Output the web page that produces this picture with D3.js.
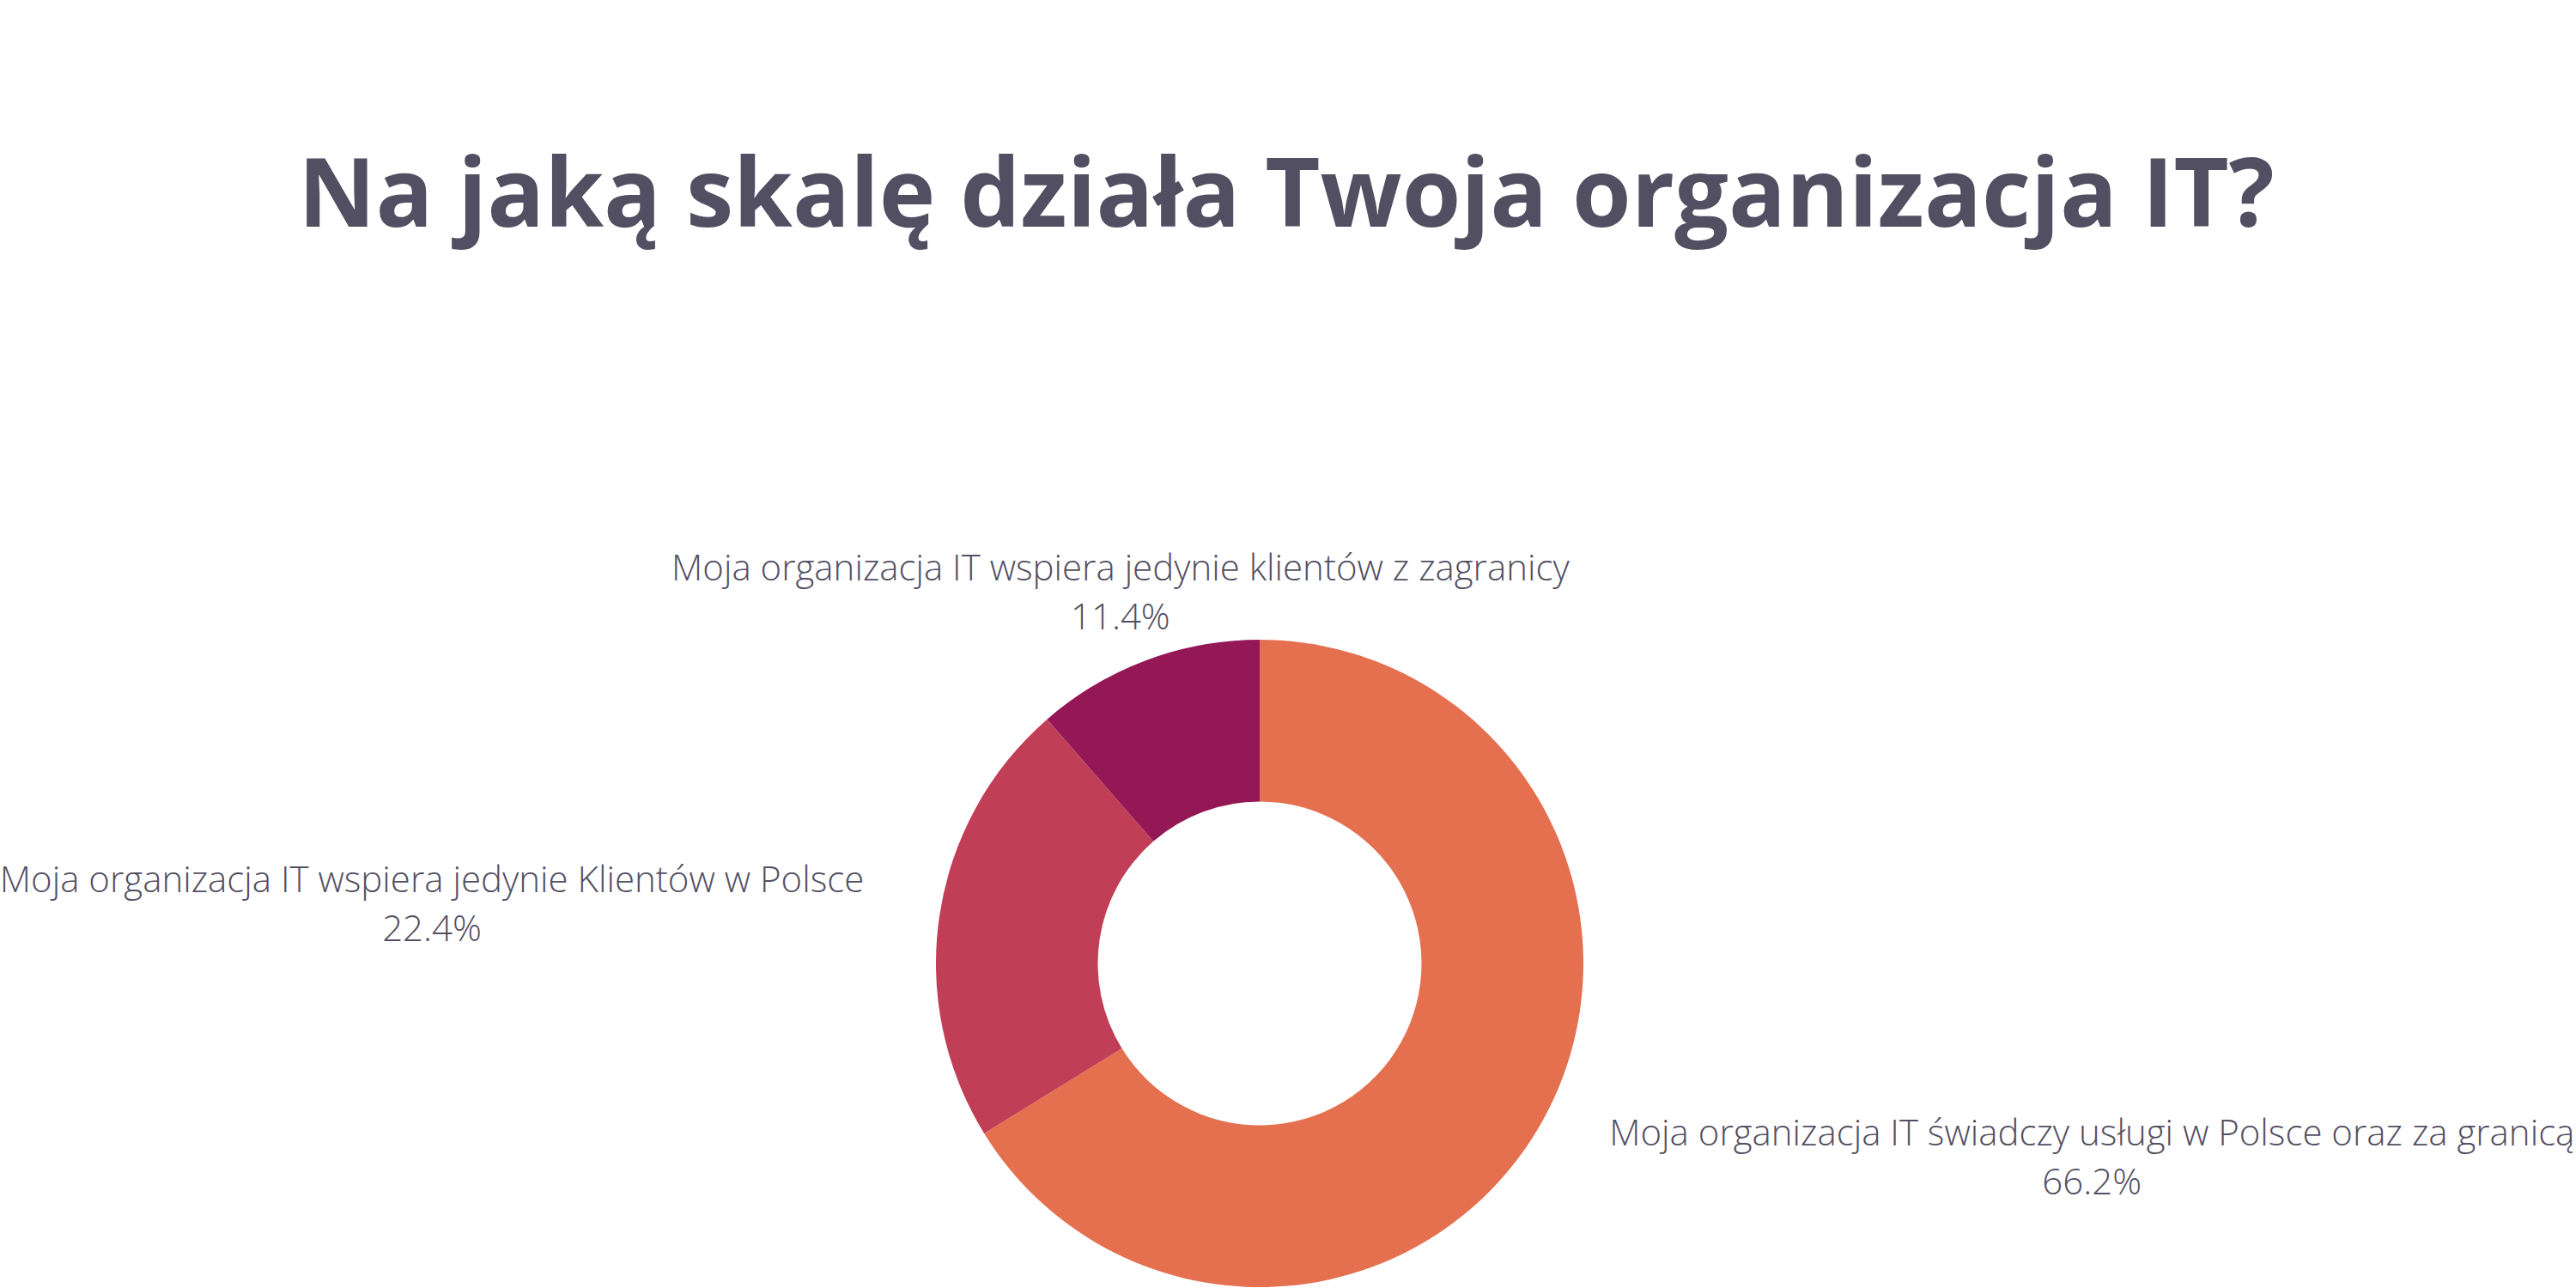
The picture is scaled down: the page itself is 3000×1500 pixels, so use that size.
<!DOCTYPE html>
<html>
<head>
<meta charset="utf-8">
<script src="https://cdn.jsdelivr.net/npm/d3@7"></script>
<style>
  body { margin: 0; background: #fff; }
</style>
</head>
<body>
<div id="chart"></div>
<script>
const categories = [
  'Moja organizacja IT świadczy usługi w Polsce oraz za granicą',
  'Moja organizacja IT wspiera jedynie Klientów w Polsce',
  'Moja organizacja IT wspiera jedynie klientów z zagranicy'
]
const shares = [66.2, 22.4, 11.4]
const colors = ['#e47050', '#c13f56', '#941756']
const titleText = 'Na jaką skalę działa Twoja organizacja IT?'

const width = 3000
const height = 1500
const textColor = '#534f62'

const svg = d3
  .select('#chart')
  .append('svg')
  .attr('width', width)
  .attr('height', height)

svg
  .append('text')
  .attr('x', 1498)
  .attr('y', 264)
  .attr('text-anchor', 'middle')
  .attr('font-family', 'Open Sans')
  .attr('font-weight', 700)
  .attr('font-size', 111)
  .attr('fill', textColor)
  .text(titleText)

const cx = 1467
const cy = 1122
const radius = 377

const data = categories.map((c, i) => ({ name: c, value: shares[i], color: colors[i] }))

const pie = d3
  .pie()
  .sort(null)
  .value(d => d.value)

const arc = d3
  .arc()
  .innerRadius(radius * 0.5)
  .outerRadius(radius)

const edgeArc = d3
  .arc()
  .innerRadius(radius)
  .outerRadius(radius)

const container = svg
  .append('g')
  .attr('transform', 'translate(' + cx + ',' + cy + ')')

const slices = pie(data)

container
  .selectAll('.slice')
  .data(slices)
  .enter()
  .append('path')
  .attr('class', 'slice')
  .attr('d', arc)
  .attr('fill', d => d.data.color)

// labels sit outside the ring, nudged away from the mid-angle point
const labelNudge = [
  { side: 'start', gap: 78, dy: 28 },
  { side: 'end', gap: 88, dy: -26 },
  { side: 'middle', gap: -30, dy: -36 - 57 }
]

const labels = container
  .selectAll('.label')
  .data(slices)
  .enter()
  .append('text')
  .attr('class', 'label')
  .attr('font-family', 'Open Sans')
  .attr('font-weight', 300)
  .attr('font-size', 42)
  .attr('fill', textColor)
  .attr('text-anchor', 'middle')

labels.append('tspan').attr('class', 'l1').text(d => d.data.name)
labels.append('tspan').attr('class', 'l2').text(d => d.data.value.toFixed(1) + '%')

labels.each(function(d, i) {
  const el = d3.select(this)
  const p = edgeArc.centroid(d)
  const w = el.select('.l1').node().getComputedTextLength()
  const n = labelNudge[i]
  let x = p[0]
  if (n.side === 'start') x = p[0] + n.gap + w / 2
  else if (n.side === 'end') x = p[0] - n.gap - w / 2
  else x = p[0] + n.gap
  const y = p[1] + n.dy
  el.select('.l1').attr('x', x).attr('y', y)
  el.select('.l2').attr('x', x).attr('y', y + 57)
})
</script>
</body>
</html>
